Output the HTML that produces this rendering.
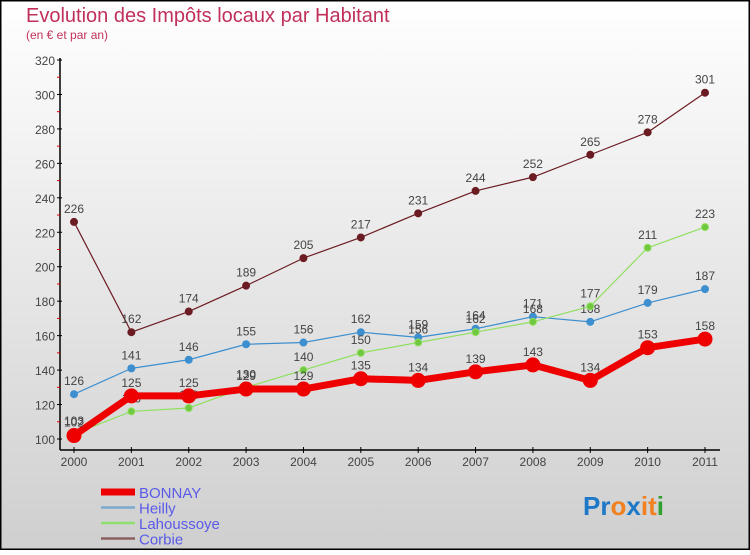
<!DOCTYPE html>
<html><head><meta charset="utf-8"><style>
body{margin:0}
#c{width:750px;height:550px;position:relative;font-family:"Liberation Sans","DejaVu Sans",sans-serif}
</style></head><body>
<div id="c">
<svg id="s" width="750" height="550" xmlns="http://www.w3.org/2000/svg">
<defs><linearGradient id="bg" x1="0" y1="0" x2="0" y2="1"><stop offset="0" stop-color="#ffffff"/><stop offset="1" stop-color="#cfcfcf"/></linearGradient></defs>
<rect x="0.5" y="0.5" width="749" height="549" fill="url(#bg)" stroke="#000" stroke-width="2"/>
<text x="26" y="22" font-size="20" fill="#c0305a">Evolution des Impôts locaux par Habitant</text>
<text x="26" y="39" font-size="12" fill="#c0305a">(en € et par an)</text>
<g id="axes"></g>
<g id="series"></g>
<g id="legend"></g>
<text x="583" y="515" font-size="26" font-weight="bold"><tspan fill="#1e78c8">Pr</tspan><tspan fill="#f08020">o</tspan><tspan fill="#1e78c8">x</tspan><tspan fill="#f08020">i</tspan><tspan fill="#f08020">t</tspan><tspan fill="#30a030">i</tspan></text>
</svg>
</div>
<script>
const years=[2000,2001,2002,2003,2004,2005,2006,2007,2008,2009,2010,2011];
const bonnay=[102,125,125,129,129,135,134,139,143,134,153,158];
const heilly=[126,141,146,155,156,162,159,164,171,168,179,187];
const lahoussoye=[103,116,118,130,140,150,156,162,168,177,211,223];
const corbie=[226,162,174,189,205,217,231,244,252,265,278,301];
const yTicks=[100,120,140,160,180,200,220,240,260,280,300,320];
const NS="http://www.w3.org/2000/svg";
function X(i){return 74+i*(705-74)/11;}
function Y(v){return 439-(v-100)*(379/220);}
function mk(t,a,p){const e=document.createElementNS(NS,t);for(const k in a)e.setAttribute(k,a[k]);p.appendChild(e);return e;}
const ax=document.getElementById('axes');
let l=mk('line',{x1:60,y1:58,x2:60,y2:450,stroke:'#000','stroke-width':1.5},ax);


l=mk('line',{x1:60,y1:450,x2:720,y2:450,stroke:'#000','stroke-width':1.5},ax);


yTicks.forEach(v=>{
 mk('line',{x1:57,y1:Y(v),x2:62,y2:Y(v),stroke:'#000'},ax);
 if(v<320) mk('line',{x1:57,y1:Y(v+10),x2:60,y2:Y(v+10),stroke:'#e00000'},ax);
 const t=mk('text',{x:55,y:Y(v)+5,'font-size':12,fill:'#444','text-anchor':'end'},ax);
 t.textContent=v;
 
 
});
years.forEach((yr,i)=>{
 mk('line',{x1:X(i),y1:447,x2:X(i),y2:453,stroke:'#000'},ax);
 const t=mk('text',{x:X(i),y:466,'font-size':12,fill:'#444','text-anchor':'middle'},ax);
 t.textContent=yr;
 
 
});
const sg=document.getElementById('series');
function series(name,vals,color,w,r,fill){
 const g=mk('g',{},sg);
 
 
 const pl=mk('polyline',{points:vals.map((v,i)=>X(i)+','+Y(v)).join(' '),fill:'none',stroke:color,'stroke-width':w,'stroke-linejoin':'round'},g);
 
 
 vals.forEach((v,i)=>{
  const c=mk('circle',{cx:X(i),cy:Y(v),r:r,fill:fill,stroke:color,'stroke-width':1},g);
  
  
  const t=mk('text',{x:X(i),y:Y(v)-9,'font-size':12,fill:'#444','text-anchor':'middle'},g);
  t.textContent=v;
  
  
 });
}
series('corbie',corbie,'#6b1c22',1.2,3.5,'#6b1c22');
series('heilly',heilly,'#3d8fcf',1.2,3.5,'#3d8fcf');
series('lahoussoye',lahoussoye,'#90e060',1.2,3.5,'#70c840');
series('bonnay',bonnay,'#ee0000',7,7,'#ee0000');
const lg=document.getElementById('legend');
const leg=[['BONNAY','#ee0000',7],['Heilly','#7aaad0',2.5],['Lahoussoye','#90e070',2.5],['Corbie','#8a6060',2.5]];
leg.forEach((e,i)=>{
 const y=492+i*15.5;
 const g=mk('g',{},lg);
 
 
 mk('line',{x1:101,y1:y,x2:135,y2:y,stroke:e[1],'stroke-width':e[2]},g);
 const t=mk('text',{x:139,y:y+6,'font-size':15,fill:'#5a5ae8'},g);
 t.textContent=e[0];
});
</script>
</body></html>
